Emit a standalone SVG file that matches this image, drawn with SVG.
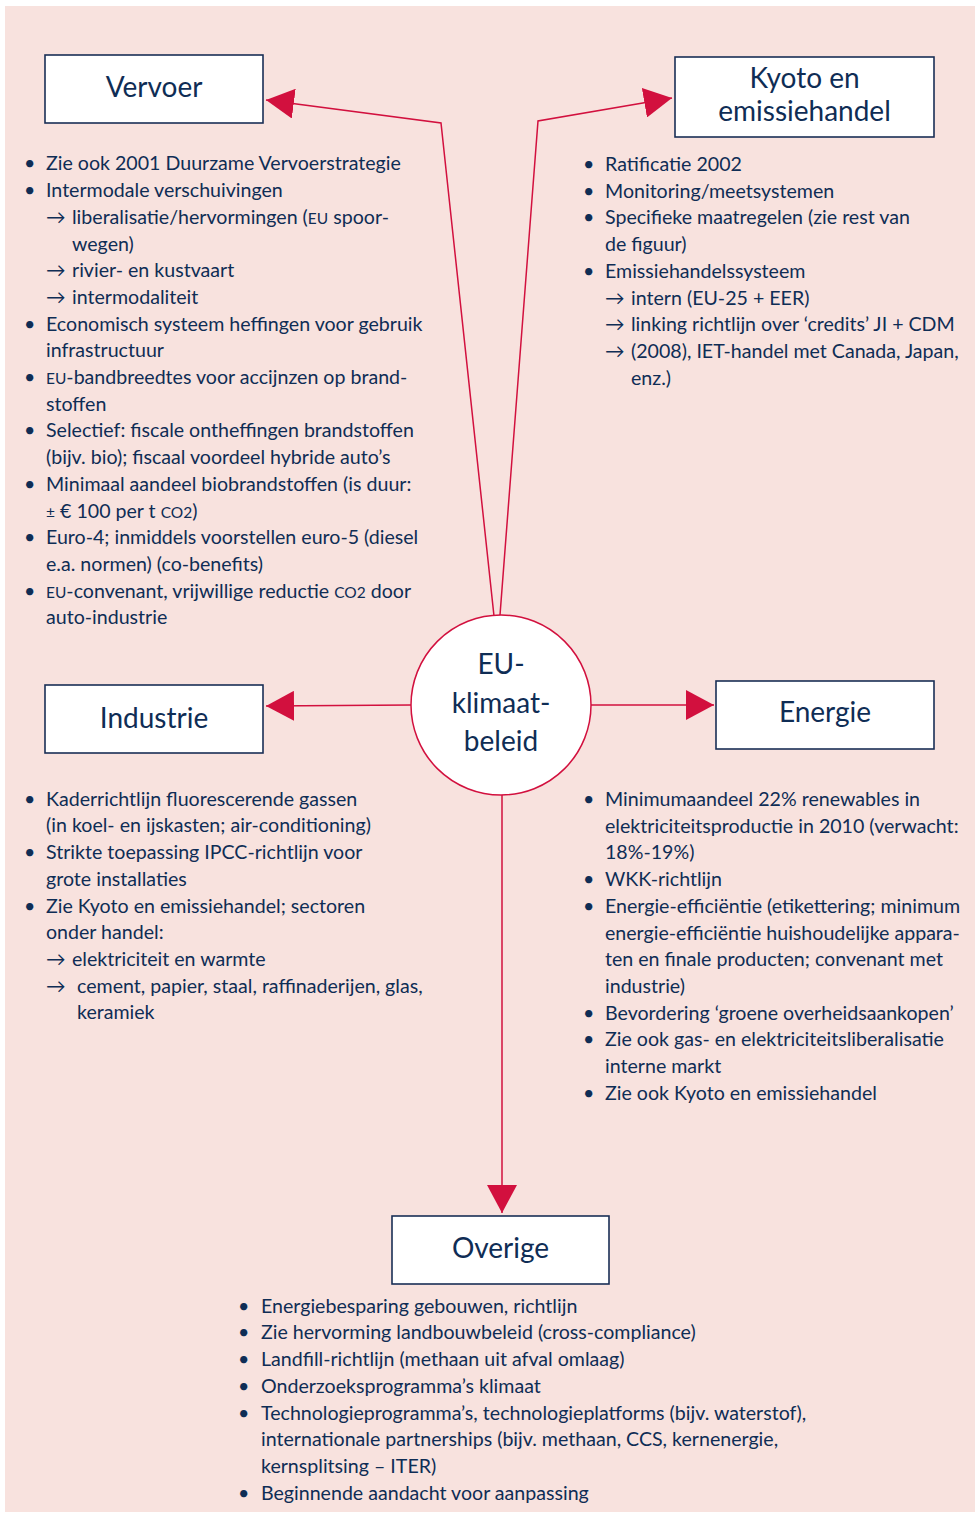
<svg xmlns="http://www.w3.org/2000/svg" width="977" height="1514" viewBox="0 0 977 1514">
<style>
.bg{fill:#f8e2de}
.box{fill:#fff;stroke:#1a2f55;stroke-width:1.6}
.ttl{font-family:Lato,"Liberation Sans",sans-serif;font-size:28px;fill:#0f2d55;text-anchor:middle}
.t{font-family:Lato,"Liberation Sans",sans-serif;font-size:19.6px;fill:#0f2d55}
.sc{font-size:15.5px}
.con{stroke:#d2103e;stroke-width:1.5;fill:none}
.circ{fill:#fff;stroke:#d2103e;stroke-width:1.5}
</style>
<defs>
<marker id="ah" markerWidth="28" markerHeight="30" refX="28" refY="15" orient="auto" markerUnits="userSpaceOnUse">
<path d="M0,0 L28,15 L0,30 Z" fill="#d2103e"/>
</marker>
</defs>
<rect class="bg" x="5" y="6" width="970" height="1506"/>

<g id="connectors">
<polyline class="con" points="494,616 441,123 266,100" marker-end="url(#ah)"/>
<polyline class="con" points="500,615 538,121 672,98" marker-end="url(#ah)"/>
<line class="con" x1="411" y1="705" x2="266" y2="706" marker-end="url(#ah)"/>
<line class="con" x1="591" y1="705" x2="714" y2="705" marker-end="url(#ah)"/>
<line class="con" x1="502" y1="795" x2="502" y2="1213" marker-end="url(#ah)"/>
</g>

<g id="center">
<circle class="circ" cx="501" cy="705" r="90"/>
<text class="ttl" x="501" y="674">EU-</text>
<text class="ttl" x="501" y="713">klimaat-</text>
<text class="ttl" x="501" y="751">beleid</text>
</g>

<g id="vervoer">
<rect class="box" x="45" y="55" width="218" height="68"/>
<text class="ttl" x="154" y="97">Vervoer</text>
<g class="t">
<text x="24" y="170.4">•</text><text x="46" y="170.4">Zie ook 2001 Duurzame Vervoerstrategie</text>
<text x="24" y="197.1">•</text><text x="46" y="197.1">Intermodale verschuivingen</text>
<text x="46" y="223.8">→</text><text x="72" y="223.8">liberalisatie/hervormingen (<tspan class="sc">EU</tspan> spoor-</text>
<text x="72" y="250.5">wegen)</text>
<text x="46" y="277.2">→</text><text x="72" y="277.2">rivier- en kustvaart</text>
<text x="46" y="303.9">→</text><text x="72" y="303.9">intermodaliteit</text>
<text x="24" y="330.6">•</text><text x="46" y="330.6">Economisch systeem heffingen voor gebruik</text>
<text x="46" y="357.3">infrastructuur</text>
<text x="24" y="384">•</text><text x="46" y="384"><tspan class="sc">EU</tspan>-bandbreedtes voor accijnzen op brand-</text>
<text x="46" y="410.7">stoffen</text>
<text x="24" y="437.4">•</text><text x="46" y="437.4">Selectief: fiscale ontheffingen brandstoffen</text>
<text x="46" y="464.1">(bijv. bio); fiscaal voordeel hybride auto’s</text>
<text x="24" y="490.8">•</text><text x="46" y="490.8">Minimaal aandeel biobrandstoffen (is duur:</text>
<text x="46" y="517.5"><tspan class="sc">±</tspan> € 100 per t <tspan class="sc">CO2</tspan>)</text>
<text x="24" y="544.2">•</text><text x="46" y="544.2">Euro-4; inmiddels voorstellen euro-5 (diesel</text>
<text x="46" y="570.9">e.a. normen) (co-benefits)</text>
<text x="24" y="597.6">•</text><text x="46" y="597.6"><tspan class="sc">EU</tspan>-convenant, vrijwillige reductie <tspan class="sc">CO2</tspan> door</text>
<text x="46" y="624.3">auto-industrie</text>
</g>
</g>

<g id="kyoto">
<rect class="box" x="675" y="57" width="259" height="80"/>
<text class="ttl" x="804.5" y="88">Kyoto en</text>
<text class="ttl" x="804.5" y="121">emissiehandel</text>
<g class="t">
<text x="583" y="171">•</text><text x="605" y="171">Ratificatie 2002</text>
<text x="583" y="197.7">•</text><text x="605" y="197.7">Monitoring/meetsystemen</text>
<text x="583" y="224.4">•</text><text x="605" y="224.4">Specifieke maatregelen (zie rest van</text>
<text x="605" y="251.1">de figuur)</text>
<text x="583" y="277.8">•</text><text x="605" y="277.8">Emissiehandelssysteem</text>
<text x="605" y="304.5">→</text><text x="631" y="304.5">intern (EU-25 + EER)</text>
<text x="605" y="331.2">→</text><text x="631" y="331.2">linking richtlijn over ‘credits’ JI + CDM</text>
<text x="605" y="357.9">→</text><text x="631" y="357.9">(2008), IET-handel met Canada, Japan,</text>
<text x="631" y="384.6">enz.)</text>
</g>
</g>

<g id="industrie">
<rect class="box" x="45" y="685" width="218" height="68"/>
<text class="ttl" x="154" y="727.5">Industrie</text>
<g class="t">
<text x="24" y="805.7">•</text><text x="46" y="805.7">Kaderrichtlijn fluorescerende gassen</text>
<text x="46" y="832.4">(in koel- en ijskasten; air-conditioning)</text>
<text x="24" y="859.1">•</text><text x="46" y="859.1">Strikte toepassing IPCC-richtlijn voor</text>
<text x="46" y="885.8">grote installaties</text>
<text x="24" y="912.5">•</text><text x="46" y="912.5">Zie Kyoto en emissiehandel; sectoren</text>
<text x="46" y="939.2">onder handel:</text>
<text x="46" y="965.9">→</text><text x="72" y="965.9">elektriciteit en warmte</text>
<text x="46" y="992.6">→</text><text x="77" y="992.6">cement, papier, staal, raffinaderijen, glas,</text>
<text x="77" y="1019.3">keramiek</text>
</g>
</g>

<g id="energie">
<rect class="box" x="716" y="681" width="218" height="68"/>
<text class="ttl" x="825" y="722.3">Energie</text>
<g class="t">
<text x="583" y="806">•</text><text x="605" y="806">Minimumaandeel 22% renewables in</text>
<text x="605" y="832.7">elektriciteitsproductie in 2010 (verwacht:</text>
<text x="605" y="859.4">18%-19%)</text>
<text x="583" y="886.1">•</text><text x="605" y="886.1">WKK-richtlijn</text>
<text x="583" y="912.8">•</text><text x="605" y="912.8">Energie-efficiëntie (etikettering; minimum</text>
<text x="605" y="939.5">energie-efficiëntie huishoudelijke appara-</text>
<text x="605" y="966.2">ten en finale producten; convenant met</text>
<text x="605" y="992.9">industrie)</text>
<text x="583" y="1019.6">•</text><text x="605" y="1019.6">Bevordering ‘groene overheidsaankopen’</text>
<text x="583" y="1046.3">•</text><text x="605" y="1046.3">Zie ook gas- en elektriciteitsliberalisatie</text>
<text x="605" y="1073">interne markt</text>
<text x="583" y="1099.7">•</text><text x="605" y="1099.7">Zie ook Kyoto en emissiehandel</text>
</g>
</g>

<g id="overige">
<rect class="box" x="392" y="1216" width="217" height="68"/>
<text class="ttl" x="500.5" y="1257.7">Overige</text>
<g class="t">
<text x="238" y="1312.7">•</text><text x="261" y="1312.7">Energiebesparing gebouwen, richtlijn</text>
<text x="238" y="1339.4">•</text><text x="261" y="1339.4">Zie hervorming landbouwbeleid (cross-compliance)</text>
<text x="238" y="1366.1">•</text><text x="261" y="1366.1">Landfill-richtlijn (methaan uit afval omlaag)</text>
<text x="238" y="1392.8">•</text><text x="261" y="1392.8">Onderzoeksprogramma’s klimaat</text>
<text x="238" y="1419.5">•</text><text x="261" y="1419.5">Technologieprogramma’s, technologieplatforms (bijv. waterstof),</text>
<text x="261" y="1446.2">internationale partnerships (bijv. methaan, CCS, kernenergie,</text>
<text x="261" y="1472.9">kernsplitsing – ITER)</text>
<text x="238" y="1499.6">•</text><text x="261" y="1499.6">Beginnende aandacht voor aanpassing</text>
</g>
</g>
</svg>
